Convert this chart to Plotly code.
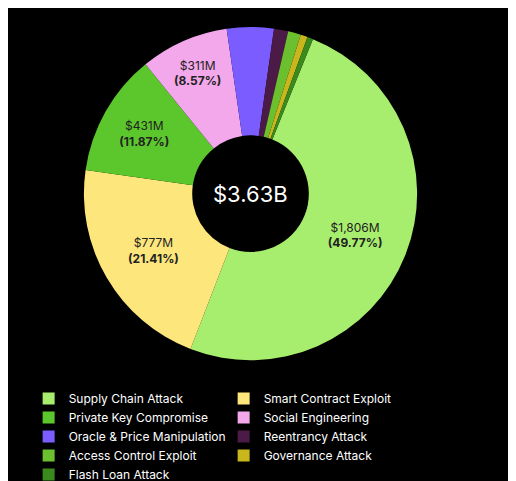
import plotly.graph_objects as go

labels = ["Supply Chain Attack", "Smart Contract Exploit", "Private Key Compromise",
          "Social Engineering", "Oracle & Price Manipulation", "Reentrancy Attack",
          "Access Control Exploit", "Governance Attack", "Flash Loan Attack"]
values = [1806, 777, 431, 311, 165, 50, 45, 25, 20]
texts = ["$1,806M<br><b>(49.77%)</b>", "$777M<br><b>(21.41%)</b>", "$431M<br><b>(11.87%)</b>",
         "$311M<br><b>(8.57%)</b>", "", "", "", "", ""]
colors = ["#a8ee6e", "#fde67c", "#5cc72c", "#f2a8ea", "#7a5cff", "#4b1a46",
          "#6cbf2e", "#c9b51c", "#3a8a1e"]

fig = go.Figure(go.Pie(
    labels=labels, values=values, text=texts, textinfo="text",
    textposition="inside", insidetextorientation="horizontal",
    hole=0.35, sort=False, direction="clockwise", rotation=22,
    marker=dict(colors=colors, line=dict(width=0)),
    textfont=dict(color="#222222", size=12, family="Inter"),
    domain=dict(x=[0.145, 0.795], y=[0.26, 0.96]),
))
fig.add_annotation(text="$3.63B", x=0.47, y=0.61, xref="paper", yref="paper",
                   showarrow=False, font=dict(color="white", size=22, family="Inter"))
fig.update_layout(
    width=516, height=481, margin=dict(l=0, r=0, t=0, b=0),
    paper_bgcolor="black", plot_bgcolor="black",
    legend=dict(orientation="h", x=0.04, y=0.21, yanchor="top", xanchor="left",
                entrywidth=150, font=dict(color="white", size=12, family="Inter"),
                itemwidth=30, tracegroupgap=0),
)
fig.update_layout(legend_entrywidthmode="pixels")
fig.write_html("out.html")
